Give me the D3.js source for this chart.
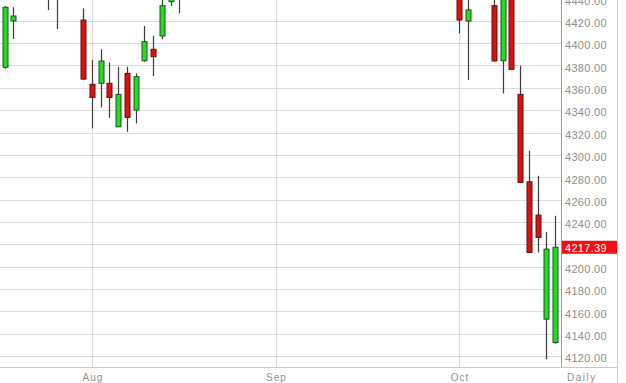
<!DOCTYPE html>
<html>
<head>
<meta charset="utf-8">
<script src="https://cdn.jsdelivr.net/npm/d3@7"></script>
<style>
  body { margin: 0; background: #fff; }
  svg { display: block; font-family: "Liberation Sans", Arial, sans-serif; }
</style>
</head>
<body>
<div class="chart-container"></div>
<script>
const dates = ["2014-07-18","2014-07-21","2014-07-22","2014-07-23","2014-07-24","2014-07-25","2014-07-28","2014-07-29","2014-07-30","2014-07-31",
    "2014-08-01","2014-08-04","2014-08-05","2014-08-06","2014-08-07","2014-08-08","2014-08-11","2014-08-12","2014-08-13","2014-08-14","2014-08-15",
    "2014-10-01","2014-10-02","2014-10-03","2014-10-06","2014-10-07","2014-10-08","2014-10-09","2014-10-10","2014-10-13","2014-10-14","2014-10-15","2014-10-16"];
const opens  = [4378.3,4419.7,4446,4460,4475,4455,4450,4447,4456,4420.6,
    4363.1,4364,4364,4325.1,4372.9,4340.1,4384.2,4394.4,4406.3,4437,4455,
    4483,4419.7,4450,4485,4433.4,4384.2,4470,4354.1,4275.9,4246.1,4153.1,4132.2];
const highs  = [4433,4432,4457,4475,4485,4458,4452,4460,4468,4431,
    4384.8,4394.4,4382.8,4378.8,4378.8,4372.9,4415.3,4406.6,4441,4455,4470,
    4490,4445,4478,4491,4446,4473,4473,4379.7,4303.7,4281.3,4231.2,4245.5];
const lows   = [4377,4403.6,4442,4450,4462,4429.6,4412.6,4441,4443,4367,
    4323.7,4342.5,4333.2,4325,4320.7,4328.2,4383.3,4370.5,4403.4,4433.2,4426.6,
    4408.7,4367,4442,4446,4383.3,4355,4376.5,4275.4,4212,4212.7,4117.3,4131];
const closes = [4432,4424.2,4456,4473,4472,4449,4444,4442,4462,4367.8,
    4351.4,4383.9,4351.4,4354.1,4333.5,4369.9,4401.2,4387.8,4433.4,4453,4464,
    4420.6,4429.6,4475,4454,4384,4468,4376.5,4275.4,4212.7,4226.2,4215.7,4217.39];

const holidays = ["2014-09-01"];
const monthTicks = ["2014-08-01","2014-09-02","2014-10-01"];
const monthLabels = ["Aug","Sep","Oct"];
const priceTicks = [4120,4140,4160,4180,4200,4220,4240,4260,4280,4300,4320,4340,4360,4380,4400,4420,4440];
const lastPrice = 4217.39;

const w = 626;
const h = 383;
const plotW = 561;
const plotH = 367;

const parse = d3.utcParse("%Y-%m-%d");
const fmt = d3.utcFormat("%Y-%m-%d");
const start = parse(dates[0]);

// position on the axis = number of trading days since the first date
const tradingIndex = (s) => d3.utcDays(start, parse(s))
    .filter(day => day.getUTCDay() % 6 !== 0 && !holidays.includes(fmt(day)))
    .length;

const candles = dates.map((d, i) => ({
    idx: tradingIndex(d), o: opens[i], h: highs[i], l: lows[i], c: closes[i]
}));

const xScale = d3.scaleLinear().domain([-0.53, 63.67]).range([0, plotW]);
const yScale = d3.scaleLinear().domain([4110.3, 4438.5]).range([plotH, 0]);

const svg = d3.select(".chart-container")
    .append("svg")
    .attr("width", w)
    .attr("height", h);

svg.append("defs").append("clipPath")
    .attr("id", "plot-clip")
    .append("rect")
    .attr("x", 0).attr("y", 0)
    .attr("width", plotW).attr("height", plotH);

// horizontal grid
svg.append("g")
    .selectAll("line")
    .data(priceTicks)
    .enter()
    .append("line")
    .attr("x1", 0)
    .attr("x2", plotW)
    .attr("y1", d => Math.round(yScale(d)) + 0.5)
    .attr("y2", d => Math.round(yScale(d)) + 0.5)
    .attr("stroke", "#dcdcdc");

// month grid
svg.append("g")
    .selectAll("line")
    .data(monthTicks)
    .enter()
    .append("line")
    .attr("x1", d => Math.round(xScale(tradingIndex(d))) + 0.5)
    .attr("x2", d => Math.round(xScale(tradingIndex(d))) + 0.5)
    .attr("y1", 0)
    .attr("y2", plotH)
    .attr("stroke", "#dcdcdc");

const plot = svg.append("g").attr("clip-path", "url(#plot-clip)");

plot.selectAll("line.wick")
    .data(candles)
    .enter()
    .append("line")
    .attr("class", "wick")
    .attr("x1", d => Math.round(xScale(d.idx)) + 0.5)
    .attr("x2", d => Math.round(xScale(d.idx)) + 0.5)
    .attr("y1", d => yScale(d.h))
    .attr("y2", d => yScale(d.l))
    .attr("stroke", "#3a3a3a")
    .attr("stroke-width", 1.2);

plot.selectAll("rect.body")
    .data(candles)
    .enter()
    .append("rect")
    .attr("class", "body")
    .attr("x", d => Math.round(xScale(d.idx)) - 2)
    .attr("y", d => yScale(Math.max(d.o, d.c)))
    .attr("width", 5)
    .attr("height", d => Math.max(1, Math.abs(yScale(d.o) - yScale(d.c))))
    .attr("fill", d => d.c >= d.o ? "#22dd22" : "#dd1111")
    .attr("stroke", d => d.c >= d.o ? "#1f4f1f" : "#5a1010")
    .attr("stroke-width", 1);

// axes frame
svg.append("line")
    .attr("x1", plotW + 0.5).attr("x2", plotW + 0.5)
    .attr("y1", 0).attr("y2", plotH)
    .attr("stroke", "#9a9a9a");
svg.append("line")
    .attr("x1", 0).attr("x2", 617)
    .attr("y1", plotH + 0.5).attr("y2", plotH + 0.5)
    .attr("stroke", "#c8c8c8");
svg.append("line")
    .attr("x1", 617.5).attr("x2", 617.5)
    .attr("y1", 0).attr("y2", h)
    .attr("stroke", "#d0d0d0");

// price labels
svg.append("g")
    .selectAll("text")
    .data(priceTicks)
    .enter()
    .append("text")
    .attr("x", 565)
    .attr("y", d => yScale(d) + 6.3)
    .attr("fill", "#8e8e8e")
    .style("font-size", "11px")
    .style("letter-spacing", "0.3px")
    .text(d => d3.format(".2f")(d));

// month labels
svg.append("g")
    .selectAll("text")
    .data(monthTicks)
    .enter()
    .append("text")
    .attr("x", d => xScale(tradingIndex(d)) + 1)
    .attr("y", 381)
    .attr("text-anchor", "middle")
    .attr("fill", "#8e8e8e")
    .style("font-size", "10px")
    .style("letter-spacing", "1px")
    .text((d, i) => monthLabels[i]);

svg.append("text")
    .attr("x", 567)
    .attr("y", 381)
    .attr("fill", "#8e8e8e")
    .style("font-size", "10px")
    .style("letter-spacing", "1.5px")
    .text("Daily");

// last price marker
const lastY = yScale(lastPrice);
svg.append("rect")
    .attr("x", 562)
    .attr("y", lastY - 6.5)
    .attr("width", 55)
    .attr("height", 13)
    .attr("fill", "#ee1111");
svg.append("text")
    .attr("x", 565)
    .attr("y", lastY + 4.5)
    .attr("fill", "#ffffff")
    .style("font-size", "11px")
    .style("letter-spacing", "0.3px")
    .text(lastPrice.toFixed(2));
</script>
</body>
</html>
